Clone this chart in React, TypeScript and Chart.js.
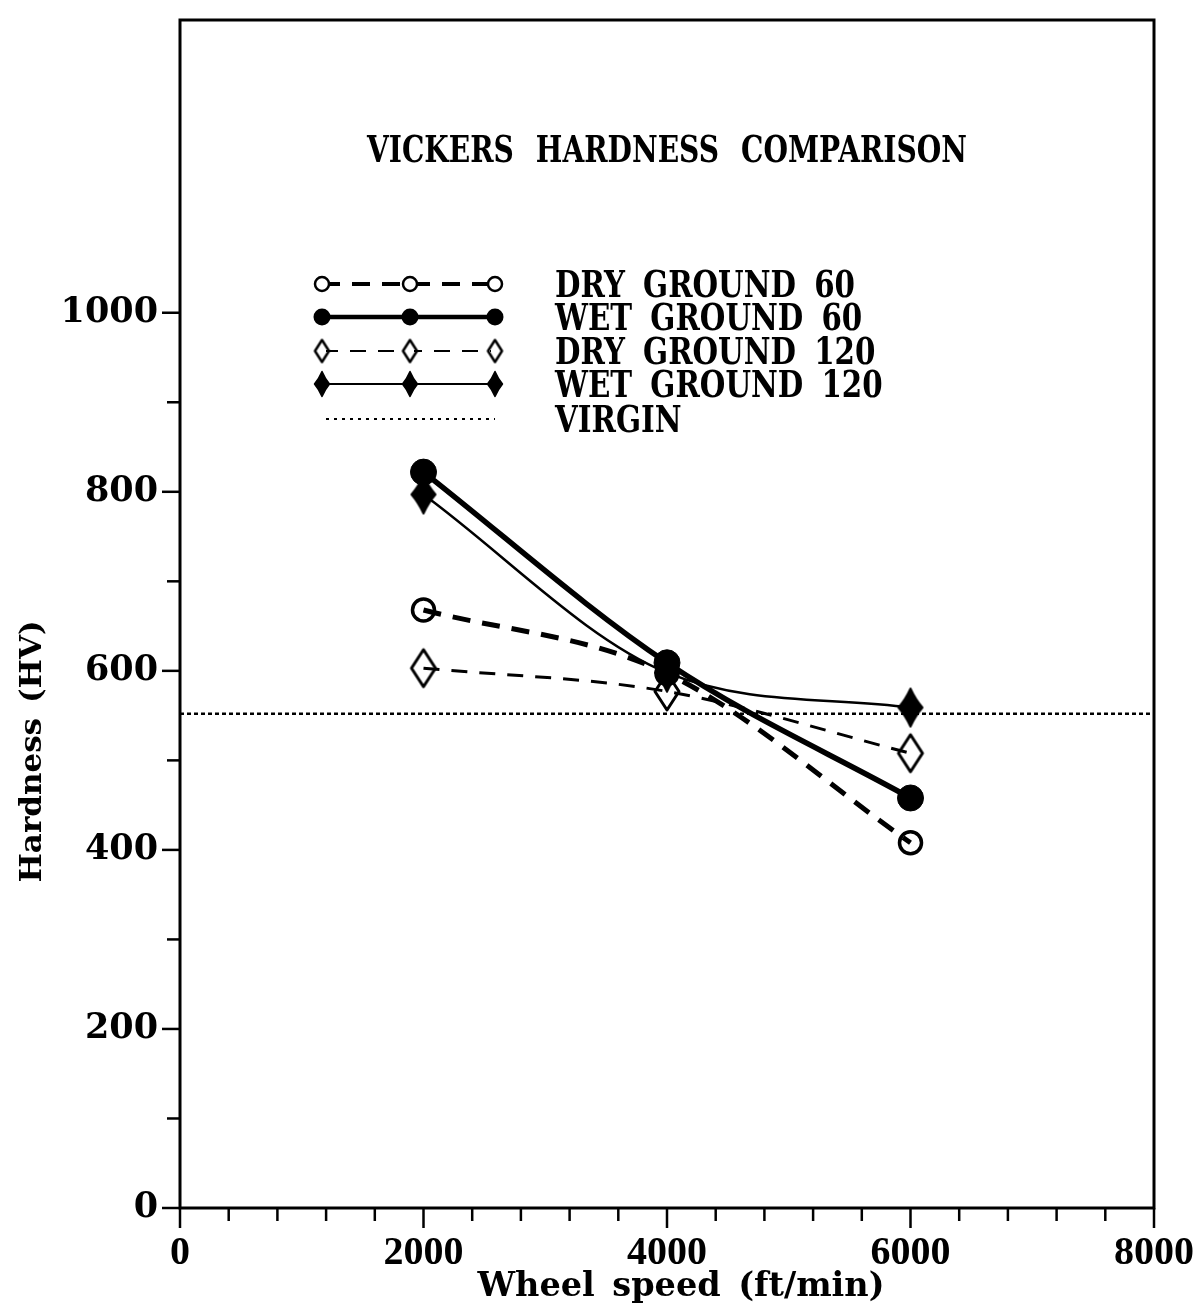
import React, { useEffect, useRef } from "react";
import { Chart, registerables } from "chart.js";
Chart.register(...registerables);

const chartTitle = "VICKERS HARDNESS COMPARISON";
const xAxisTitle = "Wheel speed (ft/min)";
const yAxisTitle = "Hardness (HV)";

const wheelSpeeds = [2000, 4000, 6000];
const dryGround60 = [668, 597, 408];
const wetGround60 = [822, 609, 458];
const dryGround120 = [603, 577, 508];
const wetGround120 = [797, 598, 559];
const virginSpeeds = [0, 8000];
const virginHardness = [552, 552];
const seriesLabels = ["DRY GROUND 60", "WET GROUND 60", "DRY GROUND 120", "WET GROUND 120", "VIRGIN"];

const xTickLabels = [0, 2000, 4000, 6000, 8000];
const xMinorTicks = [400, 800, 1200, 1600, 2400, 2800, 3200, 3600, 4400, 4800, 5200, 5600, 6400, 6800, 7200, 7600];
const yTickLabels = [0, 200, 400, 600, 800, 1000];
const yMinorTicks = [100, 300, 500, 700, 900];

const W = 1204;
const H = 1311;

function makeDiamond(w: number, h: number, filled: boolean, lw: number, k: number) {
  const c = document.createElement("canvas");
  c.width = Math.ceil(w + lw * 2 + 2);
  c.height = Math.ceil(h + lw * 2 + 2);
  const g = c.getContext("2d")!;
  const cx = c.width / 2, cy = c.height / 2;
  g.beginPath();
  g.moveTo(cx, cy - h / 2);
  g.quadraticCurveTo(cx + w * k, cy - h * k, cx + w / 2, cy);
  g.quadraticCurveTo(cx + w * k, cy + h * k, cx, cy + h / 2);
  g.quadraticCurveTo(cx - w * k, cy + h * k, cx - w / 2, cy);
  g.quadraticCurveTo(cx - w * k, cy - h * k, cx, cy - h / 2);
  g.closePath();
  g.lineJoin = "round";
  if (filled) {
    g.fillStyle = "#000";
    g.fill();
  }
  g.lineWidth = lw;
  g.strokeStyle = "#000";
  g.stroke();
  return c;
}

function fitText(ctx: CanvasRenderingContext2D, text: string, x: number, y: number, sx: number, align: "left" | "center") {
  const w = ctx.measureText(text).width * sx;
  ctx.save();
  ctx.translate(align === "center" ? x - w / 2 : x, y);
  ctx.scale(sx, 1);
  ctx.textAlign = "left";
  ctx.fillText(text, 0, 0);
  ctx.restore();
}

export default function App() {
  const ref = useRef<HTMLCanvasElement | null>(null);

  useEffect(() => {
    const canvas = ref.current!;
    const openDiamond = makeDiamond(24, 37, false, 3, 0.25);
    const filledDiamond = makeDiamond(24, 38, true, 2, 0.21);
    const openDiamondSmall = makeDiamond(14, 22, false, 2.5, 0.25);
    const filledDiamondSmall = makeDiamond(15, 25, true, 1.5, 0.21);

    const pts = (ys: number[]) => wheelSpeeds.map((x, i) => ({ x, y: ys[i] }));

    const frameAndTicks = {
      id: "frameAndTicks",
      afterDraw(chart: any) {
        const { ctx, chartArea: a, scales } = chart;
        const xs = scales.x, ys = scales.y;
        ctx.save();
        ctx.strokeStyle = "#000";
        ctx.lineWidth = 3;
        ctx.setLineDash([]);
        ctx.strokeRect(a.left, a.top, a.right - a.left, a.bottom - a.top);
        ctx.lineWidth = 2.5;
        const yt = (v: number, len: number) => {
          const p = ys.getPixelForValue(v);
          ctx.beginPath();
          ctx.moveTo(a.left, p);
          ctx.lineTo(a.left - len, p);
          ctx.stroke();
        };
        yTickLabels.forEach((v) => yt(v, 18));
        yMinorTicks.forEach((v) => yt(v, 13));
        const xt = (v: number, len: number) => {
          const p = xs.getPixelForValue(v);
          ctx.beginPath();
          ctx.moveTo(p, a.bottom);
          ctx.lineTo(p, a.bottom + len);
          ctx.stroke();
        };
        xTickLabels.forEach((v) => xt(v, 20));
        xMinorTicks.forEach((v) => xt(v, 13));

        ctx.fillStyle = "#000";
        ctx.textBaseline = "alphabetic";

        // axis titles
        ctx.font = "bold 34px 'DejaVu Serif'";
        (ctx as any).wordSpacing = "6px";
        const xw = ctx.measureText(xAxisTitle).width;
        fitText(ctx, xAxisTitle, xs.getPixelForValue(4000) + 14, a.bottom + 88, 407 / xw, "center");
        ctx.font = "bold 30px 'DejaVu Serif'";
        (ctx as any).wordSpacing = "4px";
        const yw = ctx.measureText(yAxisTitle).width;
        ctx.save();
        ctx.translate(a.left - 139, ys.getPixelForValue(510));
        ctx.rotate(-Math.PI / 2);
        fitText(ctx, yAxisTitle, 0, 0, 262 / yw, "center");
        ctx.restore();

        // title
        ctx.font = "bold 37px 'DejaVu Serif'";
        (ctx as any).wordSpacing = "16px";
        const tw = ctx.measureText(chartTitle).width;
        fitText(ctx, chartTitle, (a.left + a.right) / 2, a.top + 142, 600 / tw, "center");

        // legend
        const lx0 = a.left + 142, lx1 = a.left + 230, lx2 = a.left + 315;
        const rowY = [a.top + 264, a.top + 297, a.top + 331, a.top + 364, a.top + 399];
        ctx.font = "bold 37px 'DejaVu Serif'";
        (ctx as any).wordSpacing = "10px";
        const refW = ctx.measureText(seriesLabels[0]).width;
        const sx = 300 / refW;
        chart.data.datasets.forEach((ds: any, i: number) => {
          const y = rowY[i];
          ctx.save();
          ctx.strokeStyle = "#000";
          ctx.lineWidth = i === 4 ? 2 : Math.max(2, ds.borderWidth - 1);
          ctx.setLineDash(i === 4 ? [3, 5] : ds.borderDash || []);
          ctx.beginPath();
          ctx.moveTo(i === 4 ? lx0 + 4 : lx0, y);
          ctx.lineTo(lx2, y);
          ctx.stroke();
          ctx.setLineDash([]);
          [lx0, lx1, lx2].forEach((px) => {
            if (i === 0) {
              ctx.fillStyle = "#fff";
              ctx.beginPath();
              ctx.arc(px, y, 7, 0, Math.PI * 2);
              ctx.fill();
              ctx.lineWidth = 2.5;
              ctx.stroke();
            } else if (i === 1) {
              ctx.fillStyle = "#000";
              ctx.beginPath();
              ctx.arc(px, y, 8.5, 0, Math.PI * 2);
              ctx.fill();
            } else if (i === 2) {
              ctx.fillStyle = "#fff";
              ctx.fillRect(px - 4, y - 6, 8, 12);
              ctx.drawImage(openDiamondSmall, px - openDiamondSmall.width / 2, y - openDiamondSmall.height / 2);
            } else if (i === 3) {
              ctx.drawImage(filledDiamondSmall, px - filledDiamondSmall.width / 2, y - filledDiamondSmall.height / 2);
            }
          });
          ctx.restore();
          ctx.fillStyle = "#000";
          fitText(ctx, seriesLabels[i], a.left + 375, y + 13, sx, "left");
        });
        ctx.restore();
      },
    };

    const chart = new Chart(canvas, {
      type: "line",
      data: {
        datasets: [
          {
            label: seriesLabels[0],
            data: pts(dryGround60),
            borderColor: "#000",
            borderWidth: 5,
            borderDash: [18, 12],
            cubicInterpolationMode: "monotone",
            pointStyle: "circle",
            pointRadius: 11,
            pointBorderWidth: 3.5,
            pointBackgroundColor: "rgba(0,0,0,0)",
            pointBorderColor: "#000",
            fill: false,
          },
          {
            label: seriesLabels[1],
            data: pts(wetGround60),
            borderColor: "#000",
            borderWidth: 5.5,
            cubicInterpolationMode: "monotone",
            pointStyle: "circle",
            pointRadius: 13,
            pointBorderWidth: 1,
            pointBackgroundColor: "#000",
            pointBorderColor: "#000",
            fill: false,
          },
          {
            label: seriesLabels[2],
            data: pts(dryGround120),
            borderColor: "#000",
            borderWidth: 3,
            borderDash: [16, 12],
            cubicInterpolationMode: "monotone",
            pointStyle: openDiamond as any,
            pointRadius: 12,
            fill: false,
          },
          {
            label: seriesLabels[3],
            data: pts(wetGround120),
            borderColor: "#000",
            borderWidth: 2.5,
            cubicInterpolationMode: "monotone",
            pointStyle: filledDiamond as any,
            pointRadius: 12,
            fill: false,
          },
          {
            label: seriesLabels[4],
            data: virginSpeeds.map((x, i) => ({ x, y: virginHardness[i] })),
            borderColor: "#000",
            borderWidth: 2.5,
            borderDash: [4, 3],
            pointRadius: 0,
            tension: 0,
            fill: false,
          },
        ],
      },
      options: {
        animation: false,
        responsive: false,
        devicePixelRatio: 1,
        layout: { padding: { top: 20, right: 50, left: 0, bottom: 0 } },
        plugins: { legend: { display: false }, title: { display: false }, tooltip: { enabled: false } },
        scales: {
          x: {
            type: "linear",
            min: 0,
            max: 8000,
            afterBuildTicks: (axis: any) => {
              axis.ticks = xTickLabels.map((v) => ({ value: v }));
            },
            afterFit: (axis: any) => {
              axis.height = 103;
              axis.paddingLeft = 0;
              axis.paddingRight = 0;
            },
            grid: { display: false, drawTicks: false },
            border: { display: false },
            ticks: {
              color: "#000",
              padding: 22,
              maxRotation: 0,
              callback: (v: any) => String(v),
              font: { family: "'Liberation Serif'", weight: "bold", size: 40 },
            },
            title: { display: false },
          },
          y: {
            type: "linear",
            min: 0,
            max: 1327,
            afterBuildTicks: (axis: any) => {
              axis.ticks = yTickLabels.map((v) => ({ value: v }));
            },
            afterFit: (axis: any) => {
              axis.width = 180;
              axis.paddingTop = 0;
              axis.paddingBottom = 0;
            },
            grid: { display: false, drawTicks: false },
            border: { display: false },
            ticks: {
              color: "#000",
              padding: 22,
              callback: (v: any) => String(v),
              font: { family: "'DejaVu Serif'", weight: "bold", size: 35 },
            },
            title: { display: false },
          },
        },
      },
      plugins: [frameAndTicks],
    } as any);
    return () => chart.destroy();
  }, []);

  return (
    <div style={{ position: "absolute", left: 0, top: 0, width: W, height: H, background: "#fff" }}>
      <canvas ref={ref} width={W} height={H} style={{ display: "block", width: W, height: H }} />
    </div>
  );
}
